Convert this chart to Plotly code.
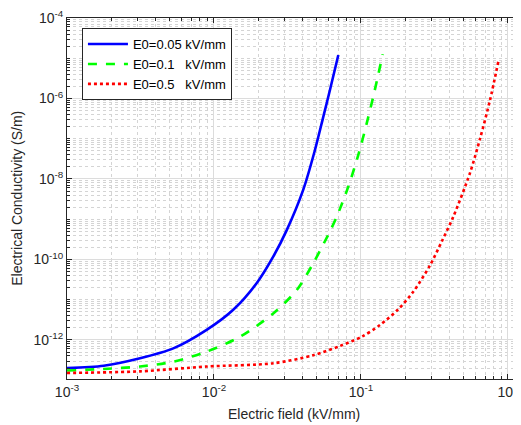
import numpy as np
import plotly.graph_objects as go

# Data (log10 of E in kV/mm, log10 of sigma in S/m)
blue_logx = [-3.0, -2.75, -2.503, -2.277, -2.05, -1.869, -1.71, -1.597, -1.505, -1.393, -1.313, -1.256, -1.211, -1.154]
blue_logy = [-12.70, -12.64, -12.455, -12.21, -11.75, -11.25, -10.59, -9.93, -9.27, -8.27, -7.28, -6.45, -5.79, -4.92]

green_logx = [-3.0, -2.75, -2.503, -2.277, -2.05, -1.823, -1.597, -1.437, -1.324, -1.211, -1.165, -1.086, -1.018, -0.961, -0.916, -0.882, -0.852]
green_logy = [-12.76, -12.72, -12.66, -12.54, -12.29, -11.92, -11.34, -10.76, -10.09, -9.30, -8.94, -8.19, -7.40, -6.62, -5.95, -5.40, -4.90]

red_logx = [-3.0, -2.503, -2.05, -1.597, -1.324, -1.143, -0.995, -0.871, -0.75, -0.644, -0.531, -0.45, -0.372, -0.259, -0.190, -0.122, -0.066]
red_logy = [-12.82, -12.78, -12.66, -12.58, -12.38, -12.15, -11.92, -11.63, -11.25, -10.80, -10.15, -9.55, -8.94, -7.86, -7.00, -6.04, -5.09]

series_names = ["E0=0.05 kV/mm", "E0=0.1\u00a0\u00a0\u00a0kV/mm", "E0=0.5\u00a0\u00a0\u00a0kV/mm"]

x_tickvals = [1e-3, 1e-2, 1e-1, 1e0]
x_ticktext = ["10<sup>-3</sup>", "10<sup>-2</sup>", "10<sup>-1</sup>", "10<sup>0</sup>"]
y_tickvals = [1e-12, 1e-10, 1e-8, 1e-6, 1e-4]
y_ticktext = ["10<sup>-12</sup>", "10<sup>-10</sup>", "10<sup>-8</sup>", "10<sup>-6</sup>", "10<sup>-4</sup>"]

FONT = "Liberation Sans, Arial, sans-serif"
TXT = "#262626"

fig = go.Figure()
for lx, ly, name, color, dash in [
    (blue_logx, blue_logy, series_names[0], "#0000ff", "solid"),
    (green_logx, green_logy, series_names[1], "#00ff00", "dash"),
    (red_logx, red_logy, series_names[2], "#ff0000", "dot"),
]:
    x, y = 10 ** np.array(lx), 10 ** np.array(ly)
    fig.add_trace(go.Scatter(x=x, y=y, mode="lines", name=name,
                             line=dict(color=color, width=2.6, dash=dash, shape="spline", smoothing=0.8)))

minor_x = [m * 10 ** e for e in range(-3, 1) for m in range(2, 10)]
minor_y = [m * 10 ** e for e in range(-14, -3) for m in range(1, 10)]
minor_y = [v for v in minor_y if not any(abs(np.log10(v) - np.log10(t)) < 1e-6 for t in y_tickvals)]

axis_common = dict(
    type="log", showline=True, linecolor=TXT, linewidth=1, mirror="allticks",
    ticks="inside", ticklen=5, tickcolor=TXT, tickwidth=1,
    showgrid=True, gridcolor="#dcdcdc", gridwidth=1, zeroline=False,
    tickfont=dict(family=FONT, size=14, color=TXT),
    tickmode="array", automargin=False,
)
minor_common = dict(tickmode="array", ticks="inside", ticklen=3, tickcolor=TXT,
                    showgrid=True, gridcolor="#d4d4d4", griddash="dot", gridwidth=1)

fig.update_xaxes(**axis_common, range=[-3, 0.082], tickvals=x_tickvals, ticktext=x_ticktext,
                 minor=dict(tickvals=minor_x, **minor_common))
fig.update_yaxes(**axis_common, range=[-12.97, -4], tickvals=y_tickvals, ticktext=y_ticktext,
                 minor=dict(tickvals=minor_y, **minor_common))

fig.add_annotation(text="Electric field (kV/mm)", x=0.5, y=-0.097, xref="paper", yref="paper",
                   xanchor="center", yanchor="middle", showarrow=False,
                   font=dict(family=FONT, size=14, color=TXT))
fig.add_annotation(text="Electrical Conductivity (S/m)", x=-0.112, y=0.5, xref="paper", yref="paper",
                   xanchor="center", yanchor="middle", showarrow=False, textangle=-90,
                   font=dict(family=FONT, size=14, color=TXT))

# page body has an 8px default margin, so the figure is sized to fill the rest of the window
fig.update_layout(
    width=513, height=417,
    margin=dict(l=59, r=1, t=10, b=46),
    paper_bgcolor="white", plot_bgcolor="white",
    showlegend=True,
    legend=dict(x=0.033, y=0.972, xanchor="left", yanchor="top",
                bgcolor="white", bordercolor=TXT, borderwidth=1,
                font=dict(family=FONT, size=13, color="#000000"),
                itemwidth=40, tracegroupgap=0),
)

fig.write_html("out.html")
